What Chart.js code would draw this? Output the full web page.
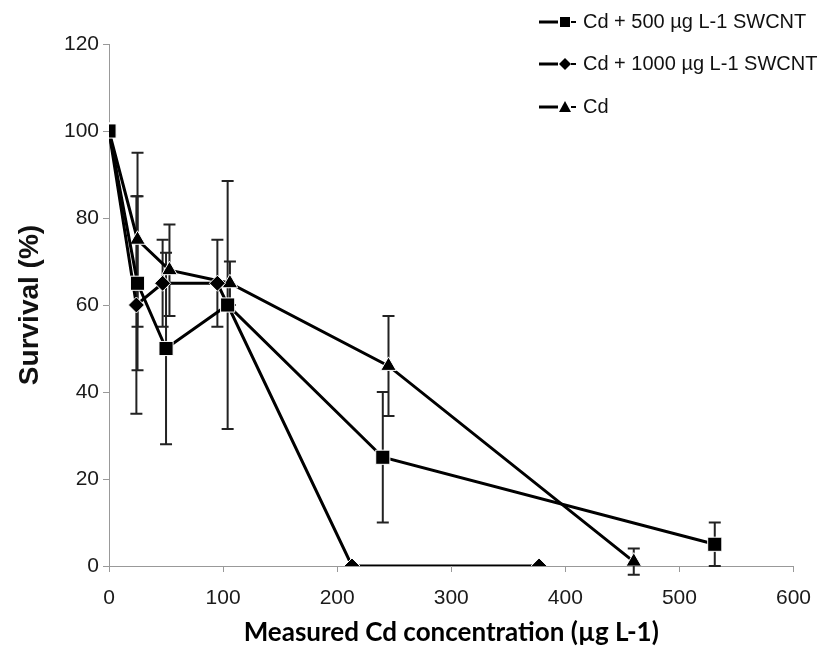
<!DOCTYPE html>
<html>
<head>
<meta charset="utf-8">
<script src="https://cdn.jsdelivr.net/npm/chart.js@4/dist/chart.umd.min.js"></script>
<style>
  body { margin: 0; background: #fff; }
  #wrap { width: 825px; height: 657px; }
</style>
</head>
<body>
<div id="wrap"><canvas id="chart"></canvas></div>
<script>
// values
const seriesNames = ['Cd + 500 µg L-1 SWCNT', 'Cd + 1000 µg L-1 SWCNT', 'Cd'];

const swcnt500X = [0, 25, 50, 104, 240, 531];
const swcnt500Y = [100, 65, 50, 60, 25, 5];
const swcnt500Err = [0, 20, 22, 28.5, 15, 5];

const swcnt1000X = [0, 24, 47, 95, 213, 377];
const swcnt1000Y = [100, 60, 65, 65, 0, 0];
const swcnt1000Err = [0, 25, 10, 10, 0, 0];

const cdX = [0, 25, 53, 106, 245, 460];
const cdY = [100, 75, 68, 65, 46, 1];
const cdErr = [0, 20, 10.5, 5, 11.5, 3];

const xTitle = 'Measured Cd concentration (µg L-1)';
const yTitle = 'Survival (%)';

function points(xs, ys) {
  return xs.map((x, i) => ({ x: x, y: ys[i] }));
}

// draws the vertical error bars under the lines
const errorBars = {
  id: 'errorBars',
  beforeDatasetsDraw(chart) {
    const ctx = chart.ctx;
    const x = chart.scales.x;
    const y = chart.scales.y;
    ctx.save();
    ctx.strokeStyle = '#222';
    ctx.lineWidth = 2;
    chart.data.datasets.forEach((ds) => {
      ds.data.forEach((p, i) => {
        const e = ds.errors[i];
        if (!e) return;
        const px = x.getPixelForValue(p.x);
        const top = y.getPixelForValue(p.y + e);
        const bot = y.getPixelForValue(p.y - e);
        ctx.beginPath();
        ctx.moveTo(px, top);
        ctx.lineTo(px, bot);
        ctx.moveTo(px - 6, top);
        ctx.lineTo(px + 6, top);
        ctx.moveTo(px - 6, bot);
        ctx.lineTo(px + 6, bot);
        ctx.stroke();
      });
    });
    ctx.restore();
  },
};

// legend stacked in the top right corner, like the excel one
const cornerLegend = {
  id: 'cornerLegend',
  afterDraw(chart) {
    const ctx = chart.ctx;
    const rows = [22, 64, 107];
    ctx.save();
    ctx.font = '20px "Liberation Sans", Arial, sans-serif';
    ctx.textBaseline = 'middle';
    chart.data.datasets.forEach((ds, i) => {
      const yy = rows[i];
      ctx.strokeStyle = '#000';
      ctx.lineWidth = 3;
      ctx.beginPath();
      ctx.moveTo(539, yy);
      ctx.lineTo(558, yy);
      ctx.stroke();
      ctx.lineWidth = 2;
      ctx.beginPath();
      ctx.moveTo(571, yy);
      ctx.lineTo(576, yy);
      ctx.stroke();
      ctx.fillStyle = '#000';
      ctx.beginPath();
      const cx = 565;
      if (ds.pointStyle === 'rect') {
        ctx.rect(cx - 5, yy - 5, 10, 10);
      } else if (ds.pointStyle === 'rectRot') {
        ctx.moveTo(cx, yy - 6);
        ctx.lineTo(cx + 6, yy);
        ctx.lineTo(cx, yy + 6);
        ctx.lineTo(cx - 6, yy);
        ctx.closePath();
      } else {
        ctx.moveTo(cx, yy - 6);
        ctx.lineTo(cx + 6, yy + 5);
        ctx.lineTo(cx - 6, yy + 5);
        ctx.closePath();
      }
      ctx.fill();
      ctx.fillStyle = '#111';
      ctx.fillText(ds.label, 583, yy);
    });
    ctx.restore();
  },
};

function series(label, xs, ys, errs, style, radius) {
  return {
    label: label,
    data: points(xs, ys),
    errors: errs,
    borderColor: '#000',
    borderWidth: 3,
    backgroundColor: '#000',
    pointStyle: style,
    pointRadius: radius,
    pointHoverRadius: radius,
    pointBackgroundColor: '#000',
    pointBorderColor: '#fff',
    pointBorderWidth: 1,
    tension: 0,
    fill: false,
  };
}

const axisColor = '#999';
const tickFont = { family: '"Liberation Sans", Arial, sans-serif', size: 21 };

new Chart(document.getElementById('chart'), {
  type: 'line',
  data: {
    datasets: [
      series(seriesNames[0], swcnt500X, swcnt500Y, swcnt500Err, 'rect', 10),
      series(seriesNames[1], swcnt1000X, swcnt1000Y, swcnt1000Err, 'rectRot', 8),
      series(seriesNames[2], cdX, cdY, cdErr, 'triangle', 9),
    ],
  },
  options: {
    responsive: true,
    maintainAspectRatio: false,
    animation: false,
    layout: { padding: { top: 44, right: 26, left: 0, bottom: 0 } },
    plugins: {
      legend: { display: false },
      tooltip: { enabled: false },
    },
    scales: {
      x: {
        type: 'linear',
        min: 0,
        max: 600,
        afterFit: (scale) => { scale.height = 91; },
        ticks: { stepSize: 100, color: '#1a1a1a', font: tickFont, padding: 14 },
        grid: { drawOnChartArea: false, color: axisColor, tickLength: 6 },
        border: { color: axisColor, width: 1 },
        title: {
          display: true,
          text: xTitle,
          color: '#000',
          font: { family: 'Lato, "Open Sans", sans-serif', size: 26, weight: 'bold' },
          padding: { top: 0, bottom: 9 },
        },
      },
      y: {
        min: 0,
        max: 120,
        afterFit: (scale) => { scale.width = 109; },
        ticks: { stepSize: 20, color: '#1a1a1a', font: tickFont, padding: 4 },
        grid: { drawOnChartArea: false, color: axisColor, tickLength: 6 },
        border: { color: axisColor, width: 1 },
        title: {
          display: true,
          text: yTitle,
          color: '#111',
          font: { family: '"Liberation Sans", Arial, sans-serif', size: 28, weight: 'bold' },
          padding: { top: 13, bottom: 0 },
        },
      },
    },
  },
  plugins: [errorBars, cornerLegend],
});
</script>
</body>
</html>
